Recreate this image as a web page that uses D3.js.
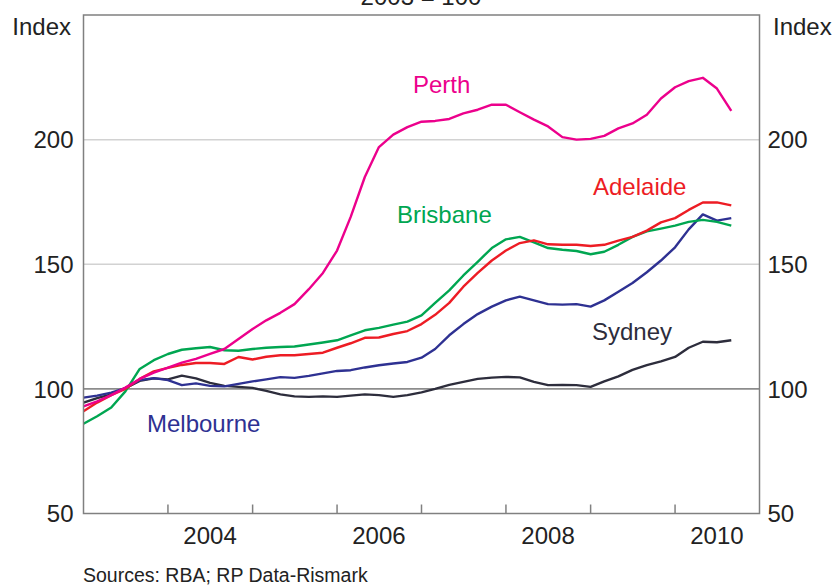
<!DOCTYPE html>
<html>
<head>
<meta charset="utf-8">
<script src="https://cdn.jsdelivr.net/npm/d3@7"></script>
<style>
  body { margin: 0; background: #fff; }
  text { font-family: "Liberation Sans", Arial, sans-serif; }
</style>
</head>
<body>
<div id="chart"></div>
<script>
// bi-monthly observations, Jan 2003 - Sep 2010
var months = [
  "2003-01","2003-03","2003-05","2003-07","2003-09","2003-11",
  "2004-01","2004-03","2004-05","2004-07","2004-09","2004-11",
  "2005-01","2005-03","2005-05","2005-07","2005-09","2005-11",
  "2006-01","2006-03","2006-05","2006-07","2006-09","2006-11",
  "2007-01","2007-03","2007-05","2007-07","2007-09","2007-11",
  "2008-01","2008-03","2008-05","2008-07","2008-09","2008-11",
  "2009-01","2009-03","2009-05","2009-07","2009-09","2009-11",
  "2010-01","2010-03","2010-05","2010-07","2010-09"
];

var perth = [
  93, 95, 97.5, 100.5, 104, 106.5,
  108.5, 110.5, 112, 114, 116, 120,
  124, 127.5, 130.5, 134, 140, 146.5,
  155.5, 169, 185, 197, 202, 205,
  207.2, 207.5, 208.3, 210.5, 212, 214,
  214, 211, 208, 205.3, 201, 200,
  200.3, 201.5, 204.5, 206.5, 210, 216.5,
  221, 223.5, 224.8, 220.5, 211.5
];

var brisbane = [
  86, 89, 92.5, 99, 108, 111.5,
  114, 115.7, 116.3, 116.8, 115.5, 115.3,
  116, 116.5, 116.8, 117, 117.8, 118.6,
  119.5, 121.5, 123.5, 124.5, 125.8, 127,
  129.5, 134.5, 139.5, 145.5, 151, 156.5,
  160, 161, 158.8, 156.5, 155.8, 155.3,
  154, 155, 157.8, 161, 163.2, 164.3,
  165.5, 167, 167.8, 167, 165.5
];

var adelaide = [
  91, 94.5, 97.5, 100, 104, 107,
  108.4, 109.6, 110.4, 110.4, 110, 112.8,
  111.8, 112.9, 113.5, 113.5, 114, 114.5,
  116.5, 118.3, 120.5, 120.6, 122, 123.2,
  126, 129.7, 134.5, 141, 146.5, 151.5,
  155.5, 158.5, 159.6, 158, 157.8, 157.8,
  157.3, 157.8, 159.5, 161, 163.5, 166.8,
  168.5, 171.8, 174.8, 174.8, 173.6
];

var melbourne = [
  96.5, 97.3, 98.5, 100.3, 103.5, 104.3,
  103.5, 101.5, 102.2, 101.2, 101, 102,
  103, 103.8, 104.7, 104.4, 105.2, 106.2,
  107.2, 107.5, 108.6, 109.5, 110.2, 110.8,
  112.5, 116, 121.5, 126, 130, 133,
  135.5, 137, 135.5, 134, 133.8, 134,
  133, 135.5, 139, 142.5, 146.8, 151.5,
  156.8, 164, 170, 167.5, 168.5
];

var sydney = [
  94.5, 96.3, 97.8, 100.3, 103.2, 104.2,
  103.8, 105.3, 104.2, 102.4, 101.2, 100.8,
  100.4, 99.2, 97.8, 97, 96.8, 97,
  96.8, 97.3, 97.8, 97.5, 96.8, 97.5,
  98.6, 100, 101.6, 102.8, 104, 104.5,
  104.8, 104.6, 102.8, 101.5, 101.6, 101.5,
  100.8, 103, 105, 107.6, 109.5, 111,
  112.8, 116.5, 118.9, 118.7, 119.5
];

var yTicks = [50, 100, 150, 200];
var yearLabels = [2004, 2006, 2008, 2010];

var width = 835,
    height = 585,
    margin = { left: 83.5, right: 75.5, top: 15, bottom: 71.5 };

var parseMonth = d3.timeParse("%Y-%m");
var dates = months.map(parseMonth);

var xScale = d3.scaleTime()
    .domain([new Date(2003, 0, 1), new Date(2011, 0, 1)])
    .range([margin.left, width - margin.right]);

var yScale = d3.scaleLinear()
    .domain([50, 250])
    .range([height - margin.bottom, margin.top]);

var svg = d3.select("#chart")
    .append("svg")
    .attr("width", width)
    .attr("height", height);

var x0 = margin.left, x1 = width - margin.right,
    y0 = margin.top, y1 = height - margin.bottom;

// gridlines
svg.append("g")
    .selectAll("line")
    .data(yTicks.filter(function(d){ return d > 50; }))
    .enter()
    .append("line")
    .attr("x1", x0).attr("x2", x1)
    .attr("y1", function(d){ return yScale(d); })
    .attr("y2", function(d){ return yScale(d); })
    .attr("stroke", function(d){ return d == 100 ? "#8c8c8c" : "#d2d2d2"; })
    .attr("stroke-width", function(d){ return d == 100 ? 1.8 : 1.5; });

// series
var series = [
  { name: "Sydney", values: sydney, color: "#2d2d3c" },
  { name: "Melbourne", values: melbourne, color: "#2e3192" },
  { name: "Brisbane", values: brisbane, color: "#00a651" },
  { name: "Adelaide", values: adelaide, color: "#ed1c24" },
  { name: "Perth", values: perth, color: "#ec008c" }
];

var line = d3.line()
    .x(function(d, i){ return xScale(dates[i]); })
    .y(function(d){ return yScale(d); });

svg.append("g")
    .selectAll("path")
    .data(series)
    .enter()
    .append("path")
    .attr("fill", "none")
    .attr("stroke", function(d){ return d.color; })
    .attr("stroke-width", 2.4)
    .attr("stroke-linejoin", "round")
    .attr("d", function(d){ return line(d.values); });

// frame
svg.append("rect")
    .attr("x", x0).attr("y", y0)
    .attr("width", x1 - x0).attr("height", y1 - y0)
    .attr("fill", "none")
    .attr("stroke", "#808080")
    .attr("stroke-width", 1.5);

// x axis ticks (year boundaries, inward)
var yearTicks = d3.timeYear.range(new Date(2004, 0, 1), new Date(2011, 0, 1));
svg.append("g")
    .selectAll("line")
    .data(yearTicks)
    .enter()
    .append("line")
    .attr("x1", function(d){ return xScale(d); })
    .attr("x2", function(d){ return xScale(d); })
    .attr("y1", y1).attr("y2", y1 - 9)
    .attr("stroke", "#808080")
    .attr("stroke-width", 1.5);

svg.append("g")
    .selectAll("text")
    .data(yearLabels)
    .enter()
    .append("text")
    .attr("x", function(d){ return xScale(new Date(d, 6, 1)); })
    .attr("y", 544)
    .attr("text-anchor", "middle")
    .attr("font-size", 24)
    .attr("fill", "#222")
    .text(function(d){ return d; });

// y tick labels, both sides
svg.append("g")
    .selectAll("text")
    .data(yTicks)
    .enter()
    .append("text")
    .attr("x", x0 - 10)
    .attr("y", function(d){ return yScale(d); })
    .attr("dy", "0.36em")
    .attr("text-anchor", "end")
    .attr("font-size", 24)
    .attr("fill", "#222")
    .text(function(d){ return d; });

svg.append("g")
    .selectAll("text")
    .data(yTicks)
    .enter()
    .append("text")
    .attr("x", x1 + 8)
    .attr("y", function(d){ return yScale(d); })
    .attr("dy", "0.36em")
    .attr("text-anchor", "start")
    .attr("font-size", 24)
    .attr("fill", "#222")
    .text(function(d){ return d; });

// axis titles
svg.append("text").attr("x", 71).attr("y", 35)
    .attr("text-anchor", "end").attr("font-size", 24).attr("fill", "#222")
    .text("Index");
svg.append("text").attr("x", 773).attr("y", 35)
    .attr("text-anchor", "start").attr("font-size", 24).attr("fill", "#222")
    .text("Index");
svg.append("text").attr("x", 421).attr("y", 5)
    .attr("text-anchor", "middle").attr("font-size", 24).attr("fill", "#222")
    .text("2003 = 100");

// series labels
var labels = [
  { name: "Perth", x: 413, y: 93, color: "#ec008c" },
  { name: "Brisbane", x: 397, y: 223, color: "#00a651" },
  { name: "Adelaide", x: 593, y: 195, color: "#ed1c24" },
  { name: "Sydney", x: 592, y: 340, color: "#2d2d3c" },
  { name: "Melbourne", x: 147, y: 432, color: "#2e3192" }
];
svg.append("g")
    .selectAll("text")
    .data(labels)
    .enter()
    .append("text")
    .attr("x", function(d){ return d.x; })
    .attr("y", function(d){ return d.y; })
    .attr("font-size", 24)
    .attr("fill", function(d){ return d.color; })
    .text(function(d){ return d.name; });

// source
svg.append("text").attr("x", 83).attr("y", 582)
    .attr("font-size", 19.5).attr("fill", "#222")
    .text("Sources: RBA; RP Data-Rismark");
</script>
</body>
</html>
